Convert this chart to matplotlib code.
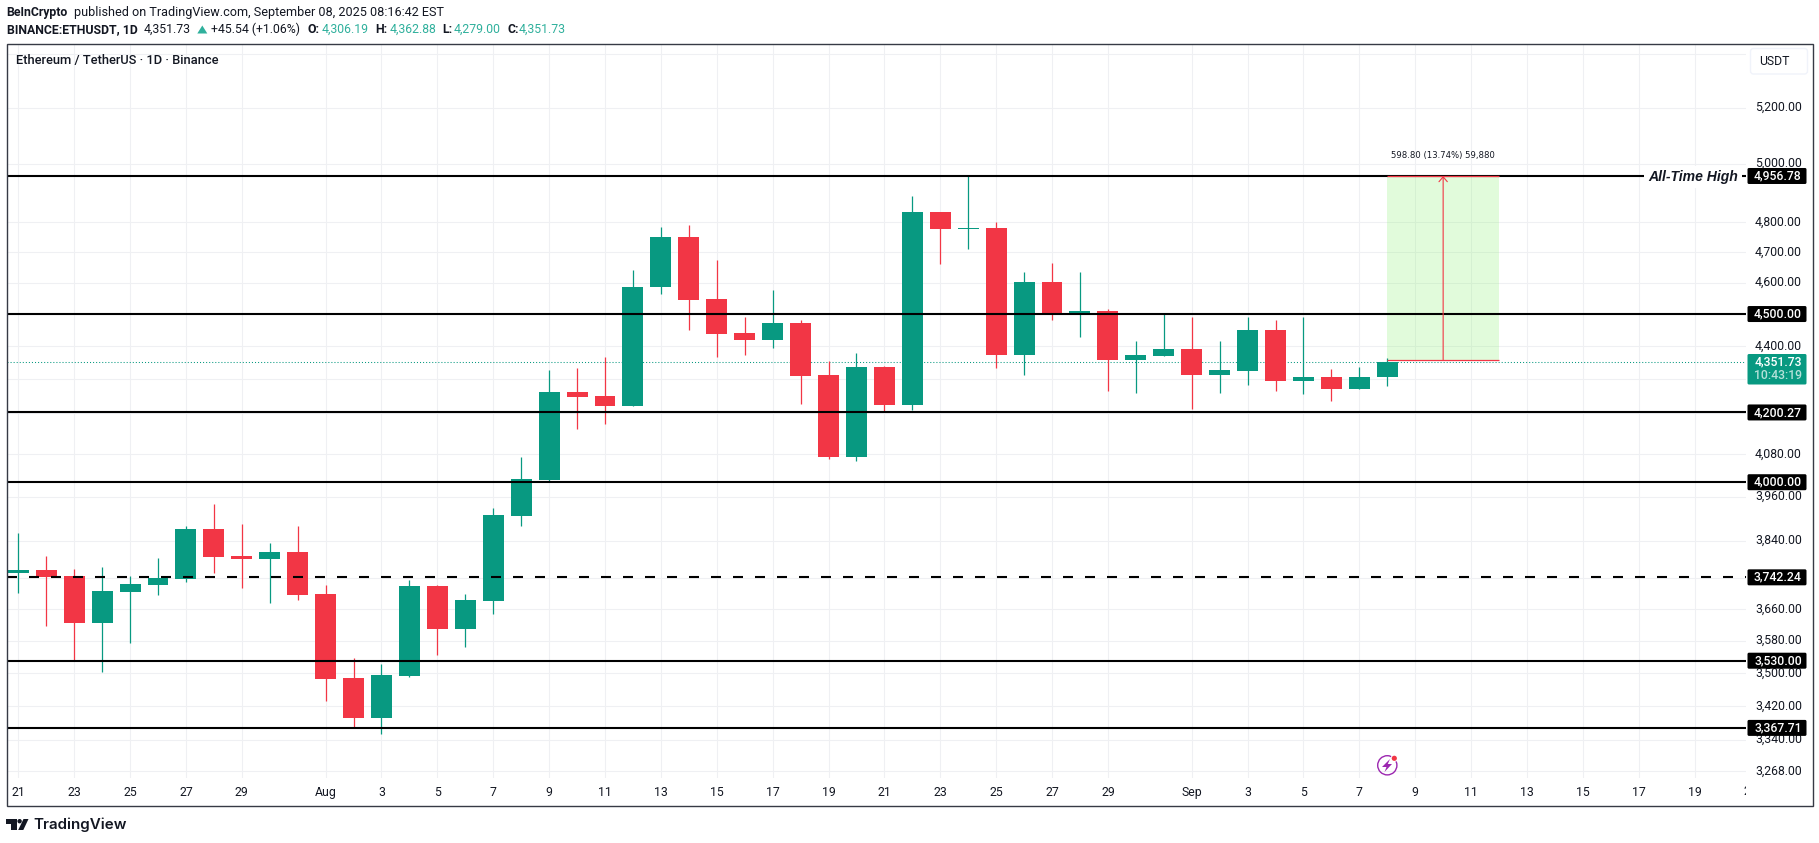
import matplotlib
matplotlib.use('Agg')
import matplotlib.pyplot as plt
from matplotlib.patches import Circle, FancyBboxPatch, Polygon, Rectangle
from matplotlib.transforms import Affine2D, IdentityTransform

# ETHUSDT daily candles from 21 Jul 2025
opens = [3754, 3762, 3746, 3625, 3704, 3722, 3738, 3871, 3799, 3791, 3809, 3699, 3488, 3391, 3493, 3720, 3609, 3681, 3907, 4006,
         4261, 4249, 4219, 4586, 4750, 4548, 4441, 4419, 4472, 4312, 4071, 4336, 4222, 4833, 4776, 4780, 4373, 4602, 4503, 4510,
         4358, 4370, 4391, 4312, 4324, 4450, 4294, 4306, 4270, 4306.19]
highs = [3860, 3799, 3764, 3770, 3746, 3793, 3879, 3940, 3885, 3834, 3879, 3722, 3537, 3522, 3735, 3722, 3699, 3929, 4072, 4327,
         4333, 4367, 4641, 4783, 4790, 4674, 4491, 4577, 4481, 4355, 4379, 4339, 4888, 4833, 4956.78, 4800, 4635, 4664, 4635, 4516,
         4416, 4500, 4491, 4416, 4491, 4481, 4491, 4330, 4336, 4362.88]
lows = [3702, 3617, 3532, 3502, 3574, 3696, 3730, 3754, 3715, 3676, 3684, 3432, 3370, 3354, 3490, 3544, 3564, 3648, 3879, 4004,
        4152, 4167, 4219, 4564, 4450, 4367, 4373, 4394, 4225, 4066, 4060, 4205, 4208, 4661, 4710, 4333, 4312, 4481, 4428, 4264,
        4258, 4370, 4211, 4258, 4282, 4264, 4255, 4234, 4270, 4279.00]
closes = [3762, 3743, 3625, 3707, 3725, 3741, 3871, 3796, 3791, 3809, 3696, 3485, 3391, 3495, 3720, 3609, 3684, 3909, 4009, 4261,
          4246, 4219, 4586, 4750, 4545, 4438, 4419, 4472, 4309, 4071, 4336, 4222, 4833, 4776, 4780, 4373, 4602, 4503, 4510, 4358,
          4373, 4391, 4312, 4327, 4450, 4294, 4306, 4270, 4306, 4351.73]
days = list(range(len(opens)))

tick_days = [0, 2, 4, 6, 8, 11, 13, 15, 17, 19, 21, 23, 25, 27, 29, 31, 33, 35, 37, 39, 42, 44, 46, 48, 50, 52, 54, 56, 58, 60, 62]
tick_names = ['21', '23', '25', '27', '29', 'Aug', '3', '5', '7', '9', '11', '13', '15', '17', '19', '21', '23', '25', '27', '29',
              'Sep', '3', '5', '7', '9', '11', '13', '15', '17', '19', '21']
price_ticks = [5400, 5200, 5000, 4800, 4700, 4600, 4500, 4400, 4300, 4200, 4080, 3960, 3840, 3740, 3660, 3580, 3500, 3420, 3340, 3268]
# these grid lines have their label fully under a price tag or the USDT button
covered_ticks = [5400, 4500, 4300, 4200, 3740]

levels = [4956.78, 4500.00, 4200.27, 4000.00, 3530.00, 3367.71]
dashed_level = 3742.24
last_price = 4351.73
measure_low = 4357.98
measure_high = 4956.78
measure_days = [49, 51, 53]

GREEN = '#089981'
RED = '#F23645'
INK = '#131722'
FONT = ['Roboto', 'DejaVu Sans']
W, H = 1819, 843

plt.rcParams['font.family'] = FONT
plt.rcParams['lines.scale_dashes'] = False

fig = plt.figure(figsize=(W / 100, H / 100), dpi=100, facecolor='white')
ax = fig.add_axes([7 / W, (H - 778) / H, (1746 - 7) / W, (778 - 44) / H])
ax.set_yscale('log')
ax.minorticks_off()
for s in ax.spines.values():
    s.set_visible(False)
ax.set_axisbelow(True)
ax.grid(True, color='#eff0f3', lw=0.75)

ax.set_yticks(price_ticks)
ax.set_yticklabels(['' if p in covered_ticks else f'{p:,.2f}' for p in price_ticks], fontsize=8.8, color=INK)
ax.yaxis.tick_right()
ax.tick_params(axis='y', length=0, pad=6.5, which='both')
ax.set_xticks(tick_days[:-1])
ax.set_xticklabels(tick_names[:-1], fontsize=8.8, color=INK)
ax.tick_params(axis='x', length=0, pad=6)
ax.set_xlim(-0.404, 61.84)
ax.set_ylim(3251.6, 5436.8)

# pixels from the top left corner of the image
px = Affine2D().scale(1, -1).translate(0, H)
screen = IdentityTransform()

for t in ax.get_yticklabels():
    t.set_transform(t.get_transform() + Affine2D().translate(0, 1.5))

# the last label on the time scale is cut by the price scale
last_tick = ax.text(tick_days[-1], -0.0187, tick_names[-1], transform=ax.get_xaxis_transform(), ha='center', va='center',
                    fontsize=8.8, color=INK, clip_on=True)
last_tick.set_clip_path(Rectangle((0, 0), 1746, H, transform=screen))

# measure tool background
ax.fill_between(measure_days[::2], measure_low, measure_high, color='#8bf373', alpha=0.25, lw=0, zorder=1)

# last price line
ax.axhline(last_price, color=GREEN, lw=0.75, dashes=(0.75, 1.45), zorder=1.5)

# candles
colors = [GREEN if c >= o else RED for o, c in zip(opens, closes)]
body_low = [min(o, c) for o, c in zip(opens, closes)]
body_size = [abs(c - o) for o, c in zip(opens, closes)]
ax.vlines(days, lows, highs, colors=colors, lw=0.9, zorder=2)
ax.bar(days, body_size, bottom=body_low, width=0.75, color=colors, lw=0, zorder=2.1)

# support and resistance levels
for lv in levels:
    ax.axhline(lv, color='black', lw=1.5, zorder=3)
ax.axhline(dashed_level, color='black', lw=1.5, dashes=(7.2, 8.64), zorder=3)

# measure tool lines
ax.hlines([measure_low, measure_high], measure_days[0], measure_days[2], color=RED, lw=0.9, zorder=3.2)
ax.annotate('', xy=(measure_days[1], measure_high), xytext=(measure_days[1], measure_low),
            arrowprops=dict(arrowstyle='->,head_length=0.35,head_width=0.3', color=RED, lw=0.8, shrinkA=0, shrinkB=0), zorder=3.2)
ax.text(measure_days[1], measure_high, '598.80 (13.74%) 59,880', ha='center', va='bottom', fontsize=6.1,
        family=['DejaVu Sans'], color=INK, zorder=4, transform=ax.transData + Affine2D().translate(0, 16))

ath_y = ax.transData.transform((0, levels[0]))[1]
fig.text(1738, ath_y - 1, 'All-Time High', transform=screen, ha='right', va='center', fontsize=10.1, style='italic',
         weight='bold', family=['Liberation Sans'], color=INK, zorder=5,
         bbox=dict(facecolor='white', edgecolor='none', pad=3))


def price_label(price, text):
    y = ax.transData.transform((0, price))[1]
    fig.add_artist(FancyBboxPatch((1747.5, y - 8), 59, 16, boxstyle='round,pad=0,rounding_size=1.5', transform=screen,
                                  fc='black', ec='none', zorder=6))
    fig.text(1778, y, text, transform=screen, ha='center', va='center', fontsize=8.8, weight='medium', color='white', zorder=7)


for lv in levels + [dashed_level]:
    price_label(lv, f'{lv:,.2f}')

# last price tag with countdown
fig.add_artist(FancyBboxPatch((1747.5, 354), 59, 30.5, boxstyle='round,pad=0,rounding_size=1.5', transform=px,
                              fc=GREEN, ec='none', zorder=6))
fig.text(1778, 361.7, f'{last_price:,.2f}', transform=px, ha='center', va='center', fontsize=8.8, weight='medium', color='white', zorder=7)
fig.text(1778, 375.7, '10:43:19', transform=px, ha='center', va='center', fontsize=8.8, weight='medium', color='#b5e1d9', zorder=7)

# USDT button
fig.add_artist(FancyBboxPatch((1750.5, 48.5), 57, 25.5, boxstyle='round,pad=0,rounding_size=3', transform=px,
                              fc='white', ec='#f0f3fa', lw=1, zorder=6))
fig.text(1759, 61.7, 'USDT', transform=px, va='center', fontsize=8.8, color=INK, zorder=7)

# chart frame
fig.add_artist(Rectangle((6.5, 43.5), 1806, 762.5, transform=px, fc='none', ec='#363a45', lw=1, zorder=8))

# header lines
def head(x, y, text, color=INK, weight='normal', size=8.8):
    fig.text(x, y, text, transform=px, va='center', fontsize=size, color=color, weight=weight)


TEAL = '#2fb09c'
head(6.7, 12.7, 'BeInCrypto', weight='bold')
head(74, 12.7, 'published on TradingView.com, September 08, 2025 08:16:42 EST', size=9.1)
head(6.7, 29.3, 'BINANCE:ETHUSDT, 1D', weight='bold')
head(144, 29.3, '4,351.73')
fig.add_artist(Polygon([(197.3, 33.5), (207.3, 33.5), (202.3, 25.5)], transform=px, fc=TEAL, ec='none'))
head(211, 29.3, '+45.54 (+1.06%)')
head(307.3, 29.3, 'O:', weight='bold')
head(321.7, 29.3, '4,306.19', color=TEAL)
head(375.7, 29.3, 'H:', weight='bold')
head(389.3, 29.3, '4,362.88', color=TEAL)
head(442.3, 29.3, 'L:', weight='bold')
head(453.3, 29.3, '4,279.00', color=TEAL)
head(507.3, 29.3, 'C:', weight='bold')
head(519, 29.3, '4,351.73', color=TEAL)
fig.text(15.7, 60.7, 'Ethereum / TetherUS · 1D · Binance', transform=px, va='center', fontsize=9.3, weight='medium', color=INK, zorder=7)

# purple lightning icon
fig.add_artist(Circle((1387.3, 765.3), 9.6, transform=px, fc='none', ec='#9c27b0', lw=1, zorder=6))
fig.add_artist(Polygon([(1390, 759), (1382, 767), (1386.5, 767), (1384.5, 772), (1392, 764), (1387.8, 764)], transform=px,
                       fc='#9c27b0', ec='none', zorder=6))
fig.add_artist(Circle((1394.3, 758.3), 3.6, transform=px, fc='white', ec='none', zorder=6.1))
fig.add_artist(Circle((1394.3, 758.3), 2.6, transform=px, fc=RED, ec='none', zorder=6.2))

# TradingView logo
LOGO = '#131722'
fig.add_artist(Polygon([(6, 819), (16.5, 819), (16.5, 830), (11, 830), (11, 823.5), (6, 823.5)], transform=px, fc=LOGO, ec='none'))
fig.add_artist(Circle((19.6, 821.2), 2.2, transform=px, fc=LOGO, ec='none'))
fig.add_artist(Polygon([(23.5, 819), (28.5, 819), (23.3, 830), (18.2, 830)], transform=px, fc=LOGO, ec='none'))
fig.text(33.3, 825, 'TradingView', transform=px, va='center', fontsize=10.9, weight='semibold', family=['Inter'], color=LOGO)

fig.savefig('out.png', dpi=100)
